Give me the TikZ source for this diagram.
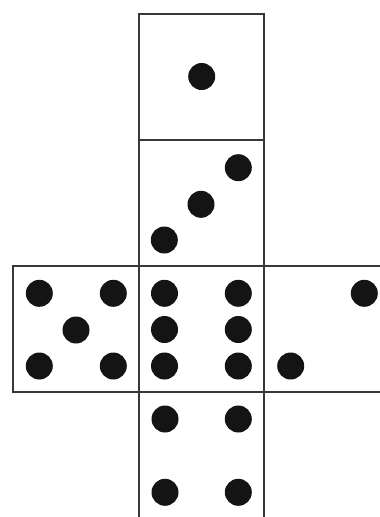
\documentclass[tikz,border=0pt]{standalone}
\begin{document}
\begin{tikzpicture}[x=1pt,y=-1pt,
  edge/.style={draw=black!78,line width=1.7pt},
  pip/.style={fill=black!92}]
\useasboundingbox (0,0) rectangle (380,517);
\clip (0,0) rectangle (380,517);
% squares
\draw[edge] (139,14.3) rectangle (264.3,140);
\draw[edge] (139,140) rectangle (264.3,266);
\draw[edge] (13,266) rectangle (139,392);
\draw[edge] (139,266) rectangle (264.3,392);
\draw[edge] (264.3,266) rectangle (392,392);
\draw[edge] (139,392) rectangle (264.3,520);
% one
\fill[pip] (201.7,76.5) circle (13.5);
% three
\fill[pip] (238.3,167.7) circle (13.5);
\fill[pip] (201,204.3) circle (13.5);
\fill[pip] (164.3,240) circle (13.5);
% five
\foreach \x/\y in {39.3/293.3,113.3/293.3,76/330,39.3/366,113.3/366}
  \fill[pip] (\x,\y) circle (13.5);
% six
\foreach \x in {164.5,238.3}
  \foreach \y in {293.3,329.5,366}
    \fill[pip] (\x,\y) circle (13.5);
% two
\fill[pip] (364.3,293.3) circle (13.5);
\fill[pip] (290.7,366) circle (13.5);
% four
\foreach \x in {165,238.3}
  \foreach \y in {419,492.3}
    \fill[pip] (\x,\y) circle (13.5);
\end{tikzpicture}
\end{document}
